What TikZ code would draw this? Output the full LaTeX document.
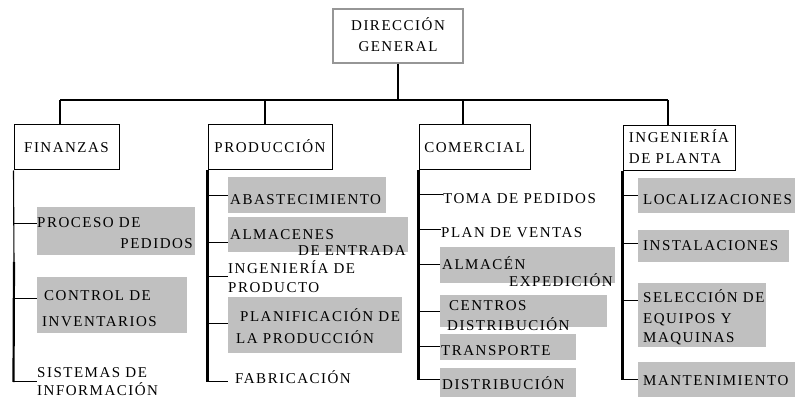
\documentclass[tikz,border=0pt]{standalone}
\usepackage{fontspec}
\setmainfont{Liberation Serif}[LetterSpace=10]
\definecolor{boxgray}{RGB}{192,192,192}
\definecolor{dgline}{RGB}{150,150,150}
\newcommand\fs{\fontsize{15}{21}\selectfont}
\tikzset{
  txt/.style={anchor=base west, inner sep=0pt, font=\fs},
  txtr/.style={anchor=base east, inner sep=0pt, font=\fs},
  gbox/.style={fill=boxgray, draw=none, inner sep=0pt, anchor=north west},
  dept/.style={draw=black, line width=1pt, inner sep=0pt, text height=10pt, text depth=0pt, font=\fs},
  conn/.style={line width=1.2pt},
  spine/.style={line width=2.2pt},
  thinspine/.style={line width=1.1pt},
  branch/.style={line width=1pt},
}
\newcommand\gb[5]{\node[gbox, minimum width={#4-#2}, minimum height={#5-#3}] (#1) at (#2,#3) {};}
\begin{document}
\begin{tikzpicture}[x=1pt,y=-1pt]
\useasboundingbox (0,0) rectangle (795,398);
\fill[white] (0,0) rectangle (795,398);

% top box
\node[draw=dgline, line width=1.2pt, minimum width=130, minimum height=54, inner sep=0pt,
      align=center, font=\fs, text height=31pt, text depth=0pt] (dg) at (398,36) {DIRECCIÓN\\GENERAL};

% departments
\node[dept, minimum width=105, minimum height=45] (fin) at (66.5,147.5) {FINANZAS};
\node[dept, minimum width=124, minimum height=45] (prod) at (270,147.5) {PRODUCCIÓN};
\node[dept, minimum width=111, minimum height=45] (com) at (474.5,147.5) {COMERCIAL};
\node[dept, minimum width=112, minimum height=45, align=left, text height=31pt] (ing) at (679,148) {INGENIERÍA\\DE PLANTA};

% bus connectors
\coordinate (bus) at (398,100);
\draw[conn] (dg.south) -- (bus);
\draw[conn] (bus -| 60,0) -- (bus -| 668,0);
\draw[conn] (bus -| 60,0) -- (fin.north -| 60,0);
\draw[conn] (bus -| 265,0) -- (prod.north -| 265,0);
\draw[conn] (bus -| 463,0) -- (com.north -| 463,0);
\draw[conn] (bus -| 668,0) -- (ing.north -| 668,0);

% gray boxes
\gb{procbox}{37}{207}{195}{255}
\gb{ctrlbox}{37}{277}{187}{333}
\gb{abasbox}{228}{177}{386}{213}
\gb{almbox}{228}{217}{408}{252}
\gb{planbox}{228}{297}{402}{353}
\gb{almexbox}{440}{247}{615}{283}
\gb{centbox}{440}{295}{607}{327}
\gb{transbox}{440}{334}{576}{360}
\gb{distbox}{440}{368}{576}{397}
\gb{locbox}{638}{178}{795}{213}
\gb{instbox}{638}{230}{789}{262}
\gb{selbox}{638}{283}{766}{347}
\gb{mantbox}{638}{362}{795}{397}

% Finanzas texts
\node[txt] (p1) at (37,227) {PROCESO DE};
\node[txtr] (p2) at (193,248.5) {PEDIDOS};
\node[txt] (c1) at (44,300) {CONTROL DE};
\node[txt] (c2) at (42,326) {INVENTARIOS};
\node[txt] (s1) at (37,377) {SISTEMAS DE};
\node[txt] (s2) at (37,395) {INFORMACIÓN};

% Produccion texts
\node[txt] (a1) at (230,204.5) {ABASTECIMIENTO};
\node[txt] (m1) at (230,240) {ALMACENES};
\node[txt] (m2) at (298,255) {DE ENTRADA};
\node[txt] (i1) at (228,273.5) {INGENIERÍA DE};
\node[txt] (i2) at (228,292) {PRODUCTO};
\node[txt] (l1) at (240,321) {PLANIFICACIÓN DE};
\node[txt] (l2) at (236,343) {LA PRODUCCIÓN};
\node[txt] (f1) at (235,383) {FABRICACIÓN};

% Comercial texts
\node[txt] (t1) at (443,204) {TOMA DE PEDIDOS};
\node[txt] (v1) at (441,237) {PLAN DE VENTAS};
\node[txt] (e1) at (442,269.5) {ALMACÉN};
\node[txt] (e2) at (509,286) {EXPEDICIÓN};
\node[txt] (r1) at (449,310) {CENTROS};
\node[txt] (r2) at (447,330) {DISTRIBUCIÓN};
\node[txt] (tr) at (441,355.5) {TRANSPORTE};
\node[txt] (di) at (442,389) {DISTRIBUCIÓN};

% Ingenieria texts
\node[txt] (o1) at (643,204.5) {LOCALIZACIONES};
\node[txt] (n1) at (643,251) {INSTALACIONES};
\node[txt] (q1) at (643,302) {SELECCIÓN DE};
\node[txt] (q2) at (643,323) {EQUIPOS Y};
\node[txt] (q3) at (643,342) {MAQUINAS};
\node[txt] (x1) at (643,385) {MANTENIMIENTO};

% spines
\coordinate (fmid) at (14,262);
\draw[thinspine] (fin.south west) -- (fmid);
\draw[spine] (fmid) -- (fin.south west |- 0,382);
\draw[spine] (prod.south west) -- (prod.south west |- 0,382);
\draw[spine] (com.south west) -- (com.south west |- 0,380);
\draw[spine] (ing.south west) -- (ing.south west |- 0,380);

% Finanzas branches
\draw[branch] (fin.south west |- 0,224) -- (procbox.west |- 0,224);
\draw[branch] (fin.south west |- 0,298) -- (ctrlbox.west |- 0,298);
\draw[branch] (fin.south west |- 0,381.5) -- (s1.west |- 0,381.5);

% Produccion branches
\draw[branch] (prod.south west |- 0,196) -- (abasbox.west |- 0,196);
\draw[branch] (prod.south west |- 0,242) -- (almbox.west |- 0,242);
\draw[branch] (prod.south west |- 0,276) -- (i1.west |- 0,276);
\draw[branch] (prod.south west |- 0,323) -- (planbox.west |- 0,323);
\draw[branch] (prod.south west |- 0,381.5) -- (abasbox.west |- 0,381.5);

% Comercial branches
\draw[branch] (com.south west |- 0,195) -- (t1.west |- 0,195);
\draw[branch] (com.south west |- 0,230) -- (v1.west |- 0,230);
\draw[branch] (com.south west |- 0,264) -- (almexbox.west |- 0,264);
\draw[branch] (com.south west |- 0,311) -- (centbox.west |- 0,311);
\draw[branch] (com.south west |- 0,346) -- (transbox.west |- 0,346);
\draw[branch] (com.south west |- 0,379.5) -- (distbox.west |- 0,379.5);

% Ingenieria branches
\draw[branch] (ing.south west |- 0,196) -- (locbox.west |- 0,196);
\draw[branch] (ing.south west |- 0,243) -- (instbox.west |- 0,243);
\draw[branch] (ing.south west |- 0,300) -- (selbox.west |- 0,300);
\draw[branch] (ing.south west |- 0,379.5) -- (mantbox.west |- 0,379.5);
\end{tikzpicture}
\end{document}
